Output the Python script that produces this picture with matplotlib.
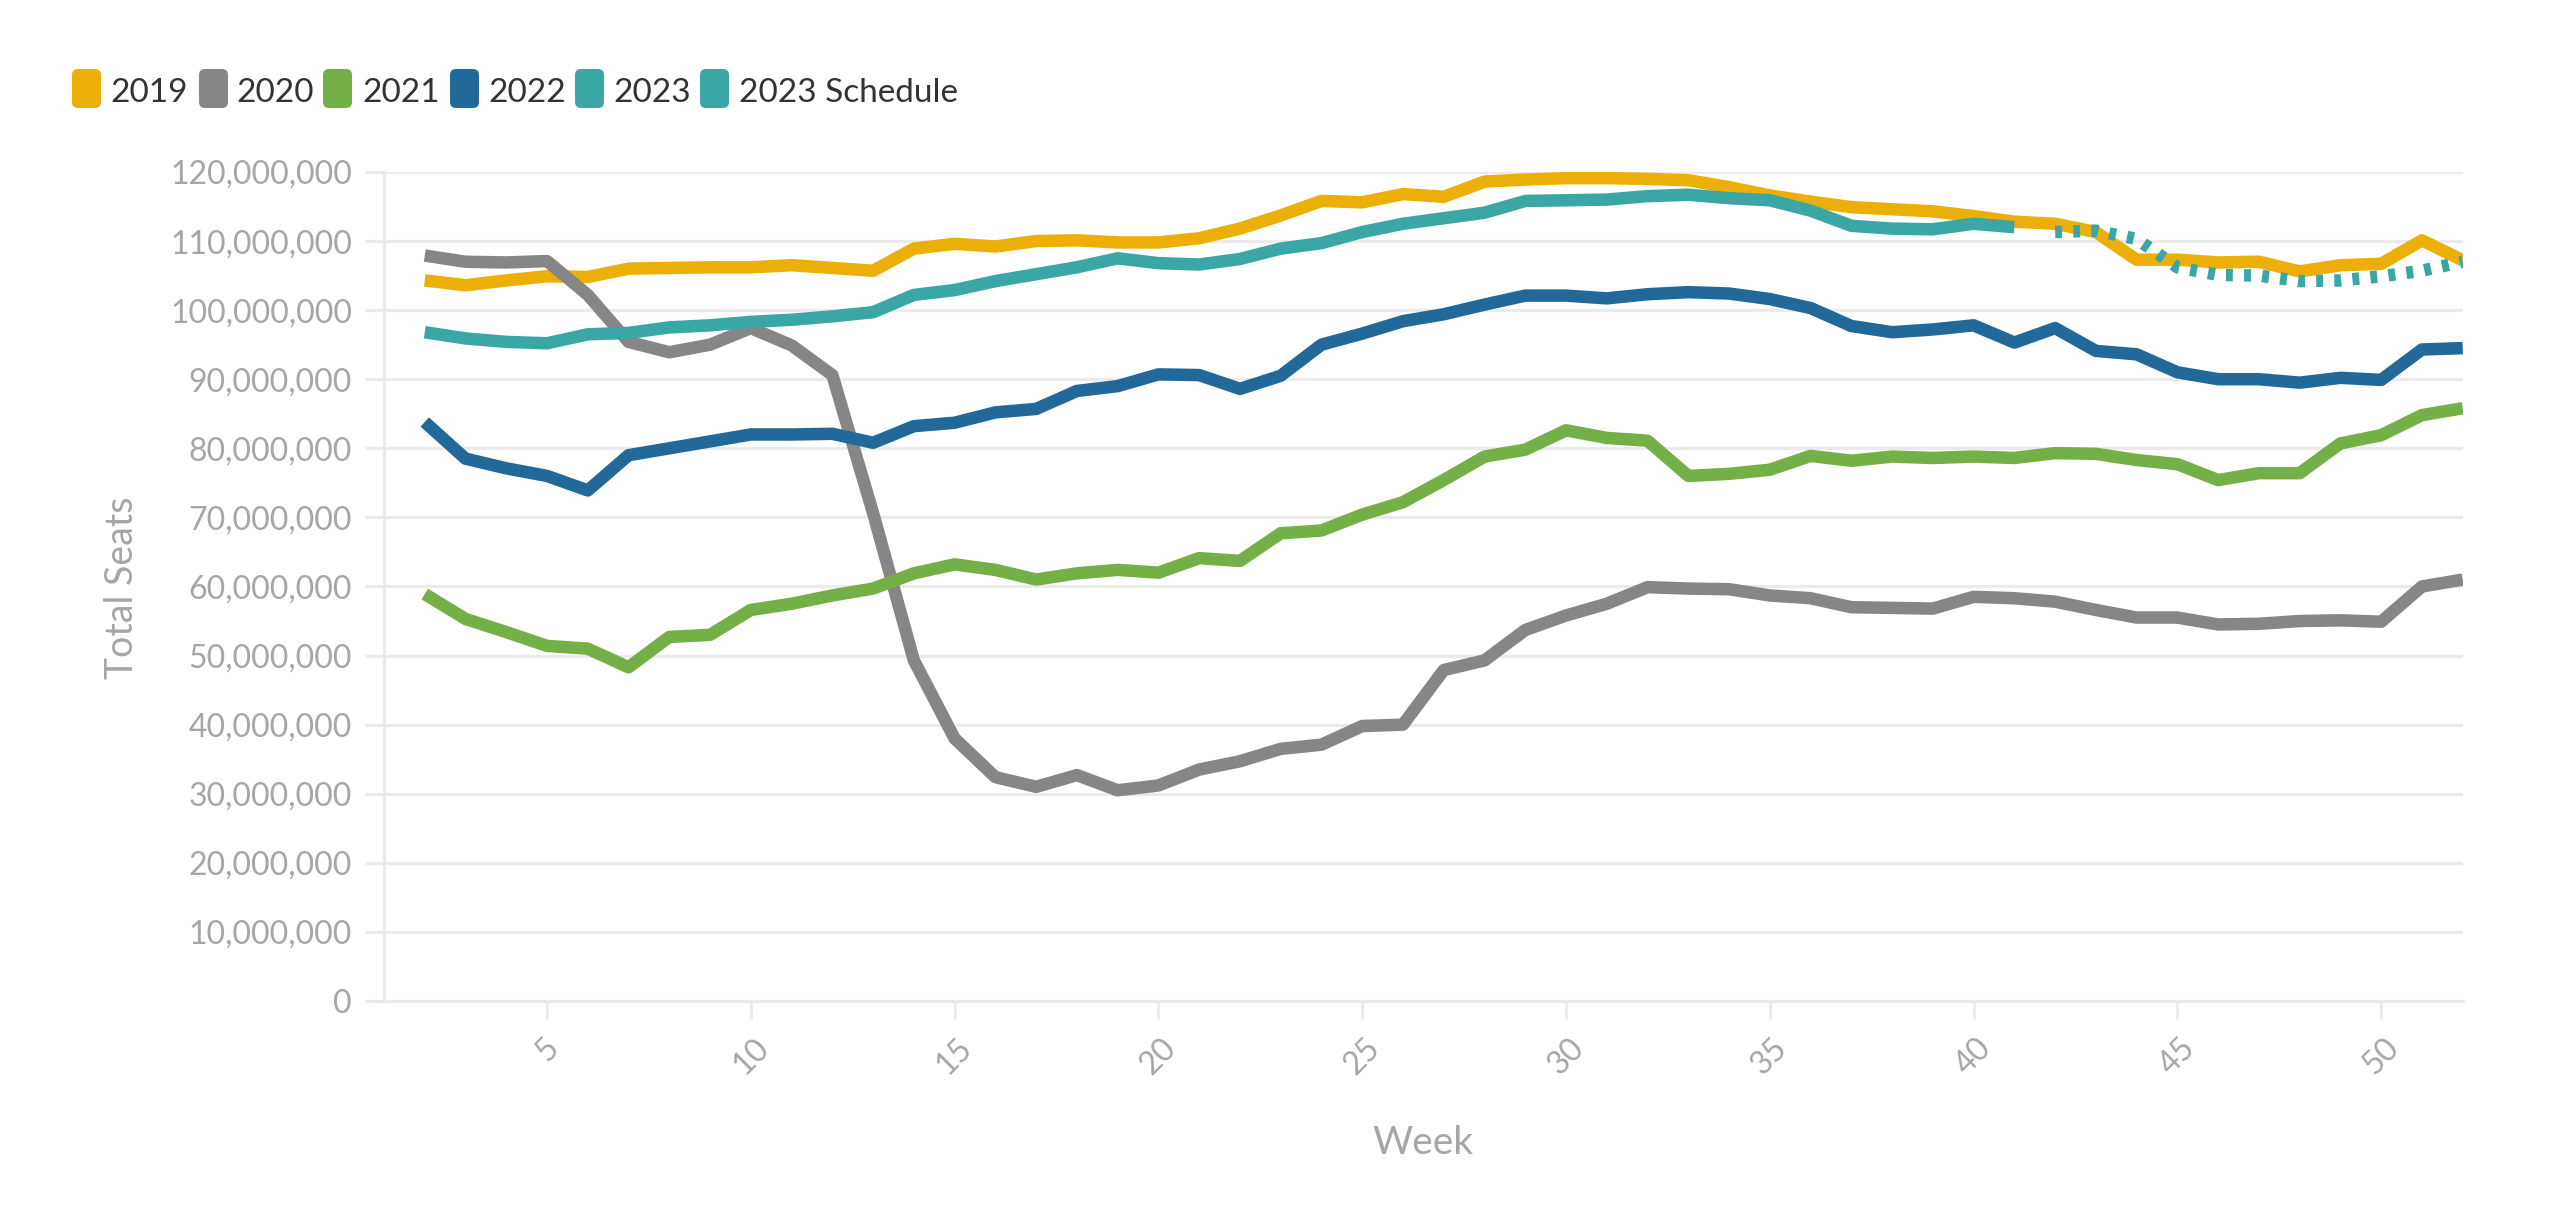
import matplotlib.pyplot as plt
from matplotlib.patches import FancyBboxPatch
from matplotlib.transforms import IdentityTransform
from matplotlib.ticker import FuncFormatter

plt.rcParams['font.family'] = ['Lato', 'DejaVu Sans']

# weekly total seats, in millions
weeks = list(range(2, 53))
seats_2019 = [104.3, 103.6, 104.3, 104.9, 104.8, 106.0, 106.1, 106.2, 106.2, 106.5,
              106.1, 105.7, 108.9, 109.6, 109.2, 110.0, 110.1, 109.8, 109.8, 110.4,
              111.8, 113.7, 115.8, 115.6, 116.8, 116.4, 118.6, 118.9, 119.1, 119.1,
              119.0, 118.8, 117.8, 116.6, 115.7, 114.9, 114.6, 114.3, 113.6, 112.8,
              112.5, 111.3, 107.3, 107.3, 106.9, 107.0, 105.6, 106.5, 106.7, 110.1,
              107.2]
seats_2020 = [107.9, 107.0, 106.9, 107.1, 102.2, 95.4, 93.9, 95.0, 97.4, 94.9,
              90.6, 70.6, 49.3, 38.0, 32.4, 31.0, 32.7, 30.5, 31.2, 33.5,
              34.7, 36.5, 37.1, 39.8, 40.0, 47.9, 49.3, 53.7, 55.8, 57.5,
              59.9, 59.7, 59.6, 58.7, 58.3, 57.0, 56.9, 56.8, 58.5, 58.3,
              57.8, 56.6, 55.5, 55.5, 54.5, 54.6, 55.0, 55.1, 54.9, 60.0,
              61.0]
seats_2021 = [58.9, 55.3, 53.4, 51.4, 51.0, 48.3, 52.7, 53.0, 56.6, 57.5,
              58.7, 59.7, 61.9, 63.2, 62.4, 61.0, 61.9, 62.4, 62.0, 64.1,
              63.7, 67.7, 68.1, 70.4, 72.2, 75.4, 78.8, 79.8, 82.6, 81.5,
              81.1, 76.0, 76.3, 76.9, 78.9, 78.2, 78.8, 78.6, 78.8, 78.6,
              79.3, 79.2, 78.3, 77.7, 75.4, 76.4, 76.4, 80.7, 81.9, 84.8,
              85.8]
seats_2022 = [83.8, 78.5, 77.1, 76.0, 73.9, 79.0, 80.0, 81.0, 82.0, 82.0,
              82.1, 80.8, 83.2, 83.7, 85.2, 85.7, 88.3, 89.0, 90.7, 90.6,
              88.6, 90.5, 95.0, 96.6, 98.4, 99.4, 100.8, 102.1, 102.1, 101.7,
              102.3, 102.6, 102.4, 101.6, 100.3, 97.7, 96.8, 97.2, 97.8, 95.3,
              97.4, 94.1, 93.6, 91.0, 90.0, 90.0, 89.5, 90.2, 89.9, 94.3,
              94.5]
weeks_2023 = list(range(2, 42))
seats_2023 = [96.8, 95.9, 95.4, 95.2, 96.5, 96.7, 97.5, 97.8, 98.3, 98.6,
              99.1, 99.7, 102.2, 102.9, 104.2, 105.2, 106.2, 107.5, 106.8, 106.6,
              107.4, 108.9, 109.7, 111.3, 112.5, 113.3, 114.1, 115.8, 115.9, 116.0,
              116.5, 116.7, 116.2, 115.9, 114.4, 112.2, 111.8, 111.7, 112.5, 112.0]
weeks_sched = list(range(42, 53))
seats_sched = [111.3, 111.5, 110.3, 106.2, 105.1, 105.0, 104.2, 104.3, 104.9, 105.7, 107.0]

labels = ['2019', '2020', '2021', '2022', '2023', '2023 Schedule']
colors = ['#ecaf08', '#868686', '#74b048', '#22699a', '#3aa7a6', '#3aa7a6']

grid_c = '#ebebeb'
tick_c = '#a6a6a6'

fig = plt.figure(figsize=(25.6, 12.16), dpi=100)
ax = fig.add_axes([0.15, 0.1768, 0.812, 0.6818])

lw = 9
series = [(weeks, seats_2019), (weeks, seats_2020), (weeks, seats_2021),
          (weeks, seats_2022), (weeks_2023, seats_2023)]
for (x, y), c in zip(series, colors[:5]):
    ax.plot(x, [v * 1e6 for v in y], color=c, lw=lw,
            solid_joinstyle='round', solid_capstyle='butt')
ax.plot(weeks_sched, [v * 1e6 for v in seats_sched], color=colors[5], lw=lw,
        linestyle=(0, (0.55, 0.9)), dash_capstyle='butt')

ax.set_xlim(1, 52)
ax.set_ylim(0, 120e6)
ax.set_yticks([i * 10e6 for i in range(13)])
ax.yaxis.set_major_formatter(FuncFormatter(lambda v, p: f'{v:,.0f}'))
ax.set_xticks(range(5, 51, 5))
for lab in ax.get_xticklabels():
    lab.set_rotation(45)
    lab.set_ha('center')
    lab.set_va('top')

ax.grid(axis='y', color=grid_c, lw=2.3)
ax.set_axisbelow(True)
for s in ['top', 'right']:
    ax.spines[s].set_visible(False)
ax.spines['left'].set_color(grid_c)
ax.spines['left'].set_linewidth(2.3)
ax.spines['bottom'].set_color(grid_c)
ax.spines['bottom'].set_linewidth(2.3)
ax.tick_params(axis='y', length=14, width=2.3, color=grid_c, pad=9,
               labelsize=23, labelcolor=tick_c)
ax.tick_params(axis='x', length=13, width=2, color=grid_c, pad=10,
               labelsize=23, labelcolor=tick_c)

fig.text(0.0477, 0.5164, 'Total Seats', rotation=90, ha='center', va='center',
         fontsize=27, color=tick_c)
fig.text(0.5557, 1 - 1143 / 1216, 'Week', ha='center', va='center',
         fontsize=28, color=tick_c)

# legend
sw_x = [72, 199, 323, 450, 575, 700]
tx_x = [110, 236, 362, 488, 613, 739]
for lab, c, sx, tx in zip(labels, colors, sw_x, tx_x):
    fig.add_artist(FancyBboxPatch((sx, 1216 - 108), 29, 39,
                                  boxstyle='round,pad=0,rounding_size=6',
                                  fc=c, ec='none', transform=IdentityTransform()))
    fig.text(tx / 2560, 1 - 102 / 1216, lab, ha='left', va='baseline',
             fontsize=24, color='#333333')

fig.savefig('out.png', dpi=100, facecolor='white')
